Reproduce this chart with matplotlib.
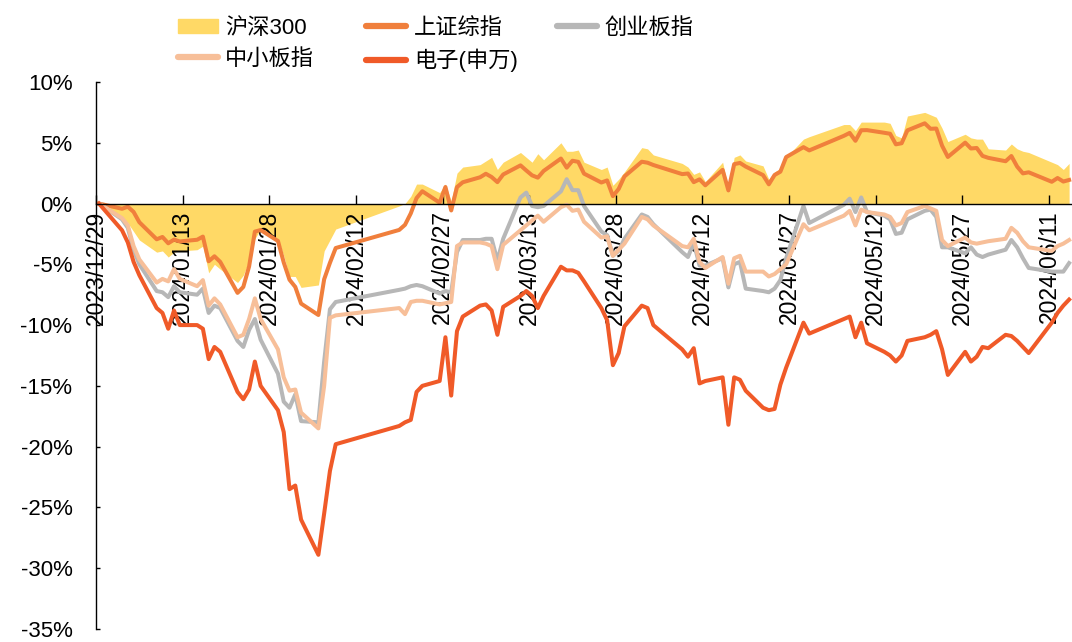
import matplotlib

matplotlib.use("Agg")

import matplotlib.pyplot as plt
import pandas as pd
from matplotlib.lines import Line2D
from matplotlib.patches import Patch

plt.rcParams["font.family"] = ["Liberation Sans", "Noto Sans CJK SC"]
plt.rcParams["axes.unicode_minus"] = False

# trading days, 2023/12/29 - 2024/06/14
dates = [
    "2023-12-29",
    "2024-01-02", "2024-01-03", "2024-01-04", "2024-01-05", "2024-01-08", "2024-01-09",
    "2024-01-10", "2024-01-11", "2024-01-12", "2024-01-15", "2024-01-16", "2024-01-17",
    "2024-01-18", "2024-01-19", "2024-01-22", "2024-01-23", "2024-01-24", "2024-01-25",
    "2024-01-26", "2024-01-29", "2024-01-30", "2024-01-31",
    "2024-02-01", "2024-02-02", "2024-02-05", "2024-02-06", "2024-02-07", "2024-02-08",
    "2024-02-19", "2024-02-20", "2024-02-21", "2024-02-22", "2024-02-23", "2024-02-26",
    "2024-02-27", "2024-02-28", "2024-02-29",
    "2024-03-01", "2024-03-04", "2024-03-05", "2024-03-06", "2024-03-07", "2024-03-08",
    "2024-03-11", "2024-03-12", "2024-03-13", "2024-03-14", "2024-03-15", "2024-03-18",
    "2024-03-19", "2024-03-20", "2024-03-21", "2024-03-22", "2024-03-25", "2024-03-26",
    "2024-03-27", "2024-03-28", "2024-03-29",
    "2024-04-01", "2024-04-02", "2024-04-03", "2024-04-08", "2024-04-09", "2024-04-10",
    "2024-04-11", "2024-04-12", "2024-04-15", "2024-04-16", "2024-04-17", "2024-04-18",
    "2024-04-19", "2024-04-22", "2024-04-23", "2024-04-24", "2024-04-25", "2024-04-26",
    "2024-04-29", "2024-04-30",
    "2024-05-06", "2024-05-07", "2024-05-08", "2024-05-09", "2024-05-10", "2024-05-13",
    "2024-05-14", "2024-05-15", "2024-05-16", "2024-05-17", "2024-05-20", "2024-05-21",
    "2024-05-22", "2024-05-23", "2024-05-24", "2024-05-27", "2024-05-28", "2024-05-29",
    "2024-05-30", "2024-05-31",
    "2024-06-03", "2024-06-04", "2024-06-05", "2024-06-06", "2024-06-07", "2024-06-11",
    "2024-06-12", "2024-06-13", "2024-06-14",
]

# cumulative change since 2023/12/29, %
hs300 = [
    0.0,
    -1.3, -1.6, -2.3, -3.0, -4.0, -3.9, -4.4, -4.0, -3.9, -3.8, -3.5, -5.7, -5.0, -5.4,
    -6.5, -5.9, -4.7, -2.9, -2.1, -2.9, -4.3, -6.0,
    -6.0, -6.9, -6.7, -3.9, -3.0, -2.1, -0.2, 0.0, 0.6, 1.6, 1.6, 0.9, 1.6, 0.2, 2.5,
    3.0, 3.2, 3.5, 3.8, 2.8, 3.4, 4.2, 3.8, 3.4, 4.1, 3.6, 5.0, 4.3, 4.3, 4.4, 3.4,
    2.8, 3.0, 1.5, 2.0, 2.6,
    4.6, 4.5, 4.0, 3.3, 3.0, 2.4, 2.6, 1.8, 3.4, 1.2, 3.8, 4.0, 3.5, 3.1, 2.0, 2.6,
    2.9, 3.8, 5.3, 5.5,
    6.5, 6.5, 6.0, 6.7, 6.7, 6.7, 6.6, 5.6, 5.4, 7.2, 7.5, 7.3, 7.1, 6.2, 5.1, 5.7,
    5.4, 5.3, 5.3, 4.5,
    4.4, 4.9, 4.5, 4.3, 4.2, 3.4, 3.2, 2.8, 3.3,
]
shzs = [
    0.0,
    -0.43, -0.26, -0.69, -1.54, -2.94, -2.75, -3.27, -2.97, -3.12, -2.98, -2.72, -4.75,
    -4.34, -4.80, -7.35, -6.86, -5.18, -2.31, -2.18, -3.08, -4.85, -6.27,
    -6.86, -8.23, -9.17, -6.23, -4.88, -3.66, -2.17, -1.75, -0.81, 0.45, 1.01, 0.07,
    1.36, -0.57, 1.35,
    1.75, 2.16, 2.45, 2.18, 1.76, 2.39, 3.14, 2.72, 2.32, 2.13, 2.68, 3.70, 2.95, 3.52,
    3.43, 2.46, 1.73, 1.90, 0.61, 1.20, 2.23,
    3.44, 3.36, 3.17, 2.42, 2.47, 1.76, 1.99, 1.50, 2.77, 1.08, 3.24, 3.34, 3.04, 2.34,
    1.58, 2.35, 2.62, 3.82, 4.64, 4.37,
    5.57, 5.81, 5.16, 6.03, 6.04, 5.82, 5.74, 4.87, 4.96, 6.02, 6.60, 6.15, 6.17, 4.76,
    3.83, 5.01, 4.53, 4.57, 3.92, 3.76,
    3.48, 3.91, 3.04, 2.48, 2.57, 1.79, 2.10, 1.81, 1.94,
]
cybz = [
    0.0,
    -1.3, -2.0, -3.8, -5.0, -7.2, -7.3, -7.7, -6.8, -7.3, -7.5, -7.0, -9.0, -8.4, -8.6,
    -11.3, -11.8, -10.4, -9.5, -11.2, -14.0, -16.3, -16.8,
    -15.7, -17.9, -18.0, -13.0, -8.7, -8.1, -7.1, -7.0, -6.8, -6.7, -6.8, -7.4, -7.2,
    -7.3, -4.0,
    -3.0, -3.0, -2.9, -2.9, -4.7, -2.9, 0.5, 0.9, -0.2, -0.3, -0.2, 1.0, 2.0, 1.1, 1.1,
    -0.2, -2.3, -2.6, -4.3, -3.9, -2.9,
    -0.9, -1.1, -1.7, -4.0, -4.4, -3.2, -5.1, -5.1, -4.5, -6.9, -5.0, -4.8, -7.0, -7.2,
    -7.3, -7.0, -6.3, -4.5, -0.2, -1.6,
    -0.1, 0.4, -0.7, 0.5, -0.7, -1.0, -1.3, -2.5, -2.4, -1.3, -0.6, -0.5, -1.1, -3.6,
    -3.6, -4.1, -3.6, -4.2, -4.4, -4.2,
    -3.8, -3.0, -3.6, -4.5, -5.3, -5.6, -5.6, -5.6, -4.9,
]
zxbz = [
    0.0,
    -1.2, -1.8, -3.5, -4.6, -6.5, -6.2, -6.4, -5.4, -6.2, -6.8, -6.3, -8.4, -7.8, -8.3,
    -11.0, -10.8, -9.5, -7.8, -9.5, -12.0, -14.3, -15.4,
    -15.3, -17.2, -18.5, -15.0, -9.4, -9.2, -8.6, -9.1, -8.1, -8.0, -8.0, -8.3, -8.2,
    -8.1, -3.5,
    -3.2, -3.2, -3.3, -3.5, -5.4, -3.4, -2.2, -1.8, -1.4, -1.0, -1.5, -0.3, -0.1, -0.6,
    -0.5, -1.5, -2.8, -2.7, -4.3, -3.8, -3.3,
    -1.1, -1.3, -1.8, -3.5, -3.6, -2.9, -4.8, -5.3, -4.4, -6.6, -4.5, -4.3, -5.6, -5.6,
    -6.0, -5.8, -5.4, -5.0, -1.7, -2.2,
    -1.0, -0.6, -1.8, -0.5, -0.7, -0.9, -1.1, -1.8, -1.6, -0.7, -0.2, -0.4, -0.6, -3.0,
    -3.5, -2.8, -3.2, -3.3, -3.2, -3.1,
    -2.9, -2.0, -2.4, -3.1, -3.6, -3.9, -3.5, -3.3, -3.0,
]
dianzi = [
    0.0,
    -2.2, -3.2, -4.8, -5.9, -8.6, -9.0, -10.3, -8.8, -10.0, -10.0, -10.3, -12.8, -11.8,
    -12.2, -15.5, -16.1, -15.3, -13.0, -15.0, -17.0, -18.8, -23.5,
    -23.2, -26.0, -28.9, -25.5, -22.0, -19.8, -18.3, -18.0, -17.8, -15.5, -15.0, -14.6,
    -11.0, -15.8, -10.5,
    -9.3, -8.4, -8.3, -8.8, -10.8, -8.5, -7.6, -7.2, -7.6, -8.6, -7.6, -5.2, -5.5, -5.5,
    -5.7, -6.4, -8.6, -9.6, -13.3, -12.3, -10.1,
    -8.4, -8.6, -10.0, -12.0, -12.6, -11.9, -14.8, -14.6, -14.3, -18.2, -14.3, -14.5,
    -15.4, -16.8, -17.0, -16.9, -14.9, -13.5, -9.8, -10.7,
    -9.5, -9.3, -11.0, -9.8, -11.5, -12.2, -12.5, -13.0, -12.5, -11.3, -11.0, -10.8,
    -10.5, -12.0, -14.1, -12.2, -13.0, -12.6, -11.8, -11.9,
    -10.8, -10.9, -11.3, -11.8, -12.3, -9.8, -9.0, -8.4, -7.9,
]

tick_dates = pd.date_range("2023-12-29", periods=12, freq="15D")
y_ticks = list(range(-35, 11, 5))

# like a date axis with points centred in their day slot
x = pd.to_datetime(dates) + pd.Timedelta(hours=12)

fig = plt.figure(figsize=(10.72, 6.42), dpi=100)
ax = fig.add_axes([0.0896, 0.0203, 0.9104, 0.852])

c_hs, c_sh, c_cy, c_zx, c_dz = "#FFD966", "#F07F3C", "#B7B7B7", "#F7BF99", "#F05A28"
lw = 2.9
ax.fill_between(x, 0, hs300, color=c_hs, lw=0, zorder=1)
for vals, col in ((shzs, c_sh), (cybz, c_cy), (zxbz, c_zx), (dianzi, c_dz)):
    ax.plot(x, vals, color=col, lw=lw, solid_joinstyle="round", zorder=2)

ax.set_xlim(pd.Timestamp("2023-12-29"), pd.Timestamp("2024-06-15"))
ax.set_ylim(-35, 10)

ax.spines["top"].set_visible(False)
ax.spines["right"].set_visible(False)
ax.spines["bottom"].set_position(("data", 0))
ax.spines["bottom"].set_linewidth(1.0)
ax.spines["left"].set_linewidth(1.0)

ax.set_xticks(tick_dates)
ax.set_xticklabels([d.strftime("%Y/%m/%d") for d in tick_dates], rotation=90)
ax.set_yticks(y_ticks)
ax.set_yticklabels([f"{v}%" for v in y_ticks])
ax.tick_params(axis="x", direction="in", length=6.5, width=1, pad=5, labelsize=16.5)
ax.tick_params(axis="y", direction="in", length=3, width=1, pad=17, labelsize=16)

h_hs = Patch(color=c_hs, label="沪深300")
h_sh = Line2D([], [], color=c_sh, lw=4.5, label="上证综指", solid_capstyle="round")
h_cy = Line2D([], [], color=c_cy, lw=4.5, label="创业板指", solid_capstyle="round")
h_zx = Line2D([], [], color=c_zx, lw=4.5, label="中小板指", solid_capstyle="round")
h_dz = Line2D([], [], color=c_dz, lw=4.5, label="电子(申万)", solid_capstyle="round")

# one legend per column, so the columns sit where the original has them
legend_kw = dict(
    loc="upper left",
    frameon=False,
    fontsize=16,
    handlelength=1.8,
    handleheight=0.6,
    handletextpad=0.35,
    labelspacing=0.45,
    borderpad=0.3,
)
for col_handles, x0 in (([h_hs, h_zx], 0.149), ([h_sh, h_dz], 0.325), ([h_cy], 0.503)):
    fig.legend(col_handles, [h.get_label() for h in col_handles],
               bbox_to_anchor=(x0, 1.0), **legend_kw)

fig.savefig("out.png", dpi=100)
plt.close(fig)
